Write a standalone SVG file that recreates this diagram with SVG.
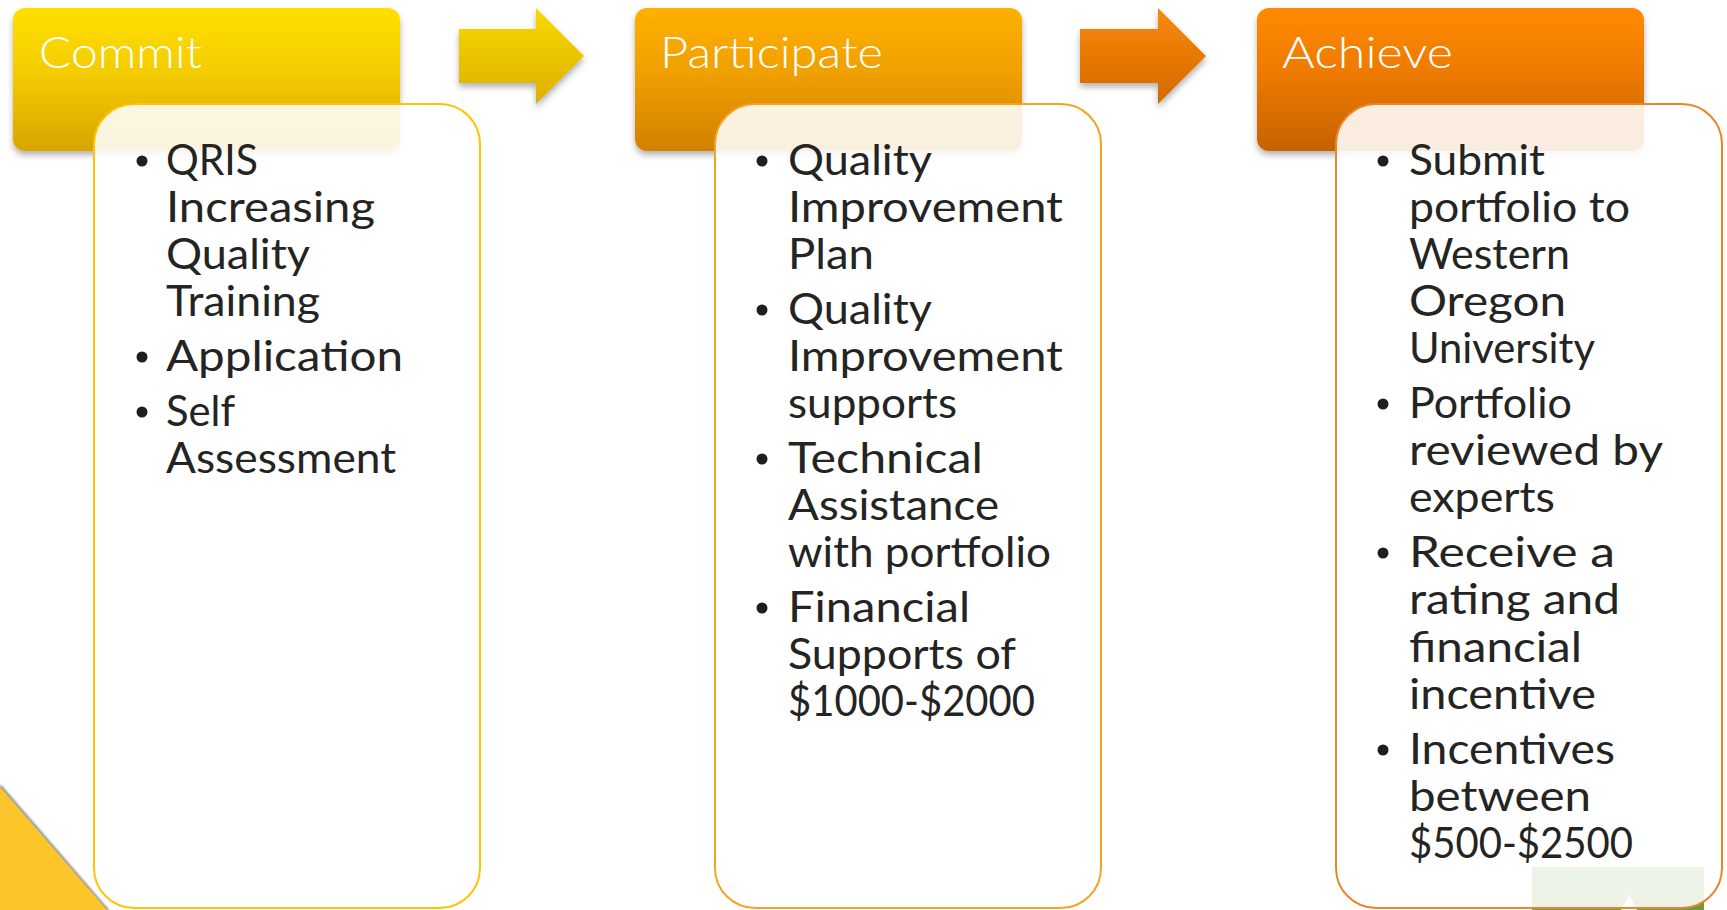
<svg xmlns="http://www.w3.org/2000/svg" width="1727" height="910" viewBox="0 0 1727 910">
<defs>
<linearGradient id="gCommit" x1="0" y1="0" x2="0" y2="1"><stop offset="0" stop-color="#FFDF00"/><stop offset="0.45" stop-color="#F4CC00"/><stop offset="1" stop-color="#D8A400"/></linearGradient>
<linearGradient id="gPart" x1="0" y1="0" x2="0" y2="1"><stop offset="0" stop-color="#FFB000"/><stop offset="0.45" stop-color="#F0A000"/><stop offset="1" stop-color="#D28000"/></linearGradient>
<linearGradient id="gAch" x1="0" y1="0" x2="0" y2="1"><stop offset="0" stop-color="#FF8A05"/><stop offset="0.45" stop-color="#EE7A02"/><stop offset="1" stop-color="#C56200"/></linearGradient>
<linearGradient id="gArr1" x1="0" y1="0" x2="0" y2="1"><stop offset="0" stop-color="#F8DA00"/><stop offset="1" stop-color="#DDAE00"/></linearGradient>
<linearGradient id="gArr2" x1="0" y1="0" x2="0" y2="1"><stop offset="0" stop-color="#F98A0A"/><stop offset="1" stop-color="#D46800"/></linearGradient>
<filter id="shadow" x="-10%" y="-10%" width="120%" height="130%"><feDropShadow dx="0" dy="4" stdDeviation="3" flood-color="#000" flood-opacity="0.3"/></filter>
<filter id="blur1"><feGaussianBlur stdDeviation="1.2"/></filter>
<style>
.hdr{font-family:"Lato","Liberation Sans",sans-serif;font-weight:300;font-size:44px;fill:#FFFFFF}
.body{font-family:"Lato","Liberation Sans",sans-serif;font-size:42px;fill:#242422}
.card{fill:#FFFFFF;fill-opacity:0.88;stroke-width:2}
.dot{fill:#1E1E1C}
</style>
</defs>
<rect width="1727" height="910" fill="#FFFFFF"/>
<g id="decor">
<line x1="0" y1="786" x2="108" y2="911" stroke="#8A8A8A" stroke-width="3" filter="url(#blur1)"/>
<polygon points="0,787 107,910 0,910" fill="#FCC62A"/>
<rect x="1532" y="867" width="172" height="43" fill="#6E9C3C"/>
<polygon points="1629,895 1637,910 1621,910" fill="#FFFFFF"/>
</g>
<g id="connectors">
<path d="M459,29 L536,29 L536,8 L584,56 L536,104 L536,83 L459,83 Z" fill="url(#gArr1)" filter="url(#shadow)"/>
<path d="M1080,29 L1158,29 L1158,8 L1206,56 L1158,104 L1158,83 L1080,83 Z" fill="url(#gArr2)" filter="url(#shadow)"/>
</g>
<g id="commit">
<rect x="13" y="8" width="387" height="143" rx="12" fill="url(#gCommit)" filter="url(#shadow)"/>
<text class="hdr" x="39" y="68" textLength="163" lengthAdjust="spacingAndGlyphs">Commit</text>
<rect class="card" x="94" y="104" width="386" height="804" rx="40" stroke="#FFC400"/>
<circle class="dot" cx="142" cy="161" r="5.5"/>
<circle class="dot" cx="142" cy="357" r="5.5"/>
<circle class="dot" cx="142" cy="412" r="5.5"/>
<text class="body" x="166" y="175" textLength="92" lengthAdjust="spacingAndGlyphs">QRIS</text>
<text class="body" x="166" y="222" textLength="209" lengthAdjust="spacingAndGlyphs">Increasing</text>
<text class="body" x="166" y="269" textLength="144" lengthAdjust="spacingAndGlyphs">Quality</text>
<text class="body" x="166" y="316" textLength="154" lengthAdjust="spacingAndGlyphs">Training</text>
<text class="body" x="166" y="371" textLength="237" lengthAdjust="spacingAndGlyphs">Application</text>
<text class="body" x="166" y="426" textLength="69" lengthAdjust="spacingAndGlyphs">Self</text>
<text class="body" x="166" y="473" textLength="230" lengthAdjust="spacingAndGlyphs">Assessment</text>
</g>
<g id="participate">
<rect x="635" y="8" width="387" height="143" rx="12" fill="url(#gPart)" filter="url(#shadow)"/>
<text class="hdr" x="660" y="68" textLength="223" lengthAdjust="spacingAndGlyphs">Participate</text>
<rect class="card" x="715" y="104" width="386" height="804" rx="40" stroke="#F2A51E"/>
<circle class="dot" cx="762" cy="161" r="5.5"/>
<circle class="dot" cx="762" cy="310" r="5.5"/>
<circle class="dot" cx="762" cy="459" r="5.5"/>
<circle class="dot" cx="762" cy="608" r="5.5"/>
<text class="body" x="788" y="175" textLength="144" lengthAdjust="spacingAndGlyphs">Quality</text>
<text class="body" x="788" y="222" textLength="275" lengthAdjust="spacingAndGlyphs">Improvement</text>
<text class="body" x="788" y="269" textLength="86" lengthAdjust="spacingAndGlyphs">Plan</text>
<text class="body" x="788" y="324" textLength="144" lengthAdjust="spacingAndGlyphs">Quality</text>
<text class="body" x="788" y="371" textLength="275" lengthAdjust="spacingAndGlyphs">Improvement</text>
<text class="body" x="788" y="418" textLength="169" lengthAdjust="spacingAndGlyphs">supports</text>
<text class="body" x="788" y="473" textLength="195" lengthAdjust="spacingAndGlyphs">Technical</text>
<text class="body" x="788" y="520" textLength="211" lengthAdjust="spacingAndGlyphs">Assistance</text>
<text class="body" x="788" y="567" textLength="263" lengthAdjust="spacingAndGlyphs">with portfolio</text>
<text class="body" x="788" y="622" textLength="182" lengthAdjust="spacingAndGlyphs">Financial</text>
<text class="body" x="788" y="669" textLength="228" lengthAdjust="spacingAndGlyphs">Supports of</text>
<text class="body" x="788" y="716" textLength="247" lengthAdjust="spacingAndGlyphs">$1000-$2000</text>
</g>
<g id="achieve">
<rect x="1257" y="8" width="387" height="143" rx="12" fill="url(#gAch)" filter="url(#shadow)"/>
<text class="hdr" x="1282" y="68" textLength="171" lengthAdjust="spacingAndGlyphs">Achieve</text>
<rect class="card" x="1336" y="104" width="386" height="804" rx="40" stroke="#E8872A"/>
<circle class="dot" cx="1383" cy="161" r="5.5"/>
<circle class="dot" cx="1383" cy="404" r="5.5"/>
<circle class="dot" cx="1383" cy="553" r="5.5"/>
<circle class="dot" cx="1383" cy="750" r="5.5"/>
<text class="body" x="1409" y="175" textLength="136" lengthAdjust="spacingAndGlyphs">Submit</text>
<text class="body" x="1409" y="222" textLength="221" lengthAdjust="spacingAndGlyphs">portfolio to</text>
<text class="body" x="1409" y="269" textLength="161" lengthAdjust="spacingAndGlyphs">Western</text>
<text class="body" x="1409" y="316" textLength="157" lengthAdjust="spacingAndGlyphs">Oregon</text>
<text class="body" x="1409" y="363" textLength="186" lengthAdjust="spacingAndGlyphs">University</text>
<text class="body" x="1409" y="418" textLength="163" lengthAdjust="spacingAndGlyphs">Portfolio</text>
<text class="body" x="1409" y="465" textLength="254" lengthAdjust="spacingAndGlyphs">reviewed by</text>
<text class="body" x="1409" y="512" textLength="146" lengthAdjust="spacingAndGlyphs">experts</text>
<text class="body" x="1409" y="567" textLength="206" lengthAdjust="spacingAndGlyphs">Receive a</text>
<text class="body" x="1409" y="614" textLength="211" lengthAdjust="spacingAndGlyphs">rating and</text>
<text class="body" x="1409" y="662" textLength="173" lengthAdjust="spacingAndGlyphs">financial</text>
<text class="body" x="1409" y="709" textLength="187" lengthAdjust="spacingAndGlyphs">incentive</text>
<text class="body" x="1409" y="764" textLength="206" lengthAdjust="spacingAndGlyphs">Incentives</text>
<text class="body" x="1409" y="811" textLength="182" lengthAdjust="spacingAndGlyphs">between</text>
<text class="body" x="1409" y="858" textLength="224" lengthAdjust="spacingAndGlyphs">$500-$2500</text>
</g>
</svg>
